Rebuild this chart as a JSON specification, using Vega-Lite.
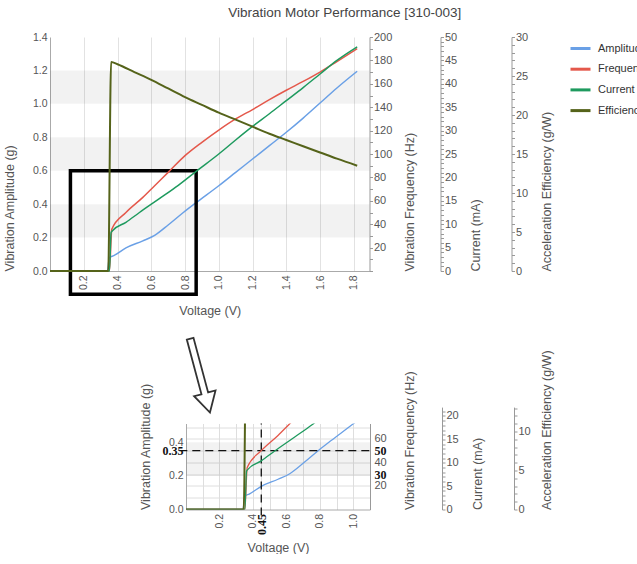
{
  "$schema": "https://vega.github.io/schema/vega-lite/v6.json",
  "padding": {"left": 3, "top": 5, "right": 0, "bottom": 0},
  "title": {"text": "Vibration Motor Performance [310-003]", "fontSize": 13.5, "fontWeight": "normal", "color": "#444", "anchor": "middle", "offset": 12, "dx": 18},
  "datasets": {
    "curves": [
      {"s": "Amplitude", "v": 0, "y": 0}, {"s": "Amplitude", "v": 0.34, "y": 0}, {"s": "Amplitude", "v": 0.352, "y": 0.08}, {"s": "Amplitude", "v": 0.378, "y": 0.092}, {"s": "Amplitude", "v": 0.45, "y": 0.138}, {"s": "Amplitude", "v": 0.55, "y": 0.18}, {"s": "Amplitude", "v": 0.62, "y": 0.213}, {"s": "Amplitude", "v": 0.7, "y": 0.275}, {"s": "Amplitude", "v": 0.79, "y": 0.35}, {"s": "Amplitude", "v": 0.87, "y": 0.412}, {"s": "Amplitude", "v": 1.0, "y": 0.51}, {"s": "Amplitude", "v": 1.1, "y": 0.59}, {"s": "Amplitude", "v": 1.2, "y": 0.67}, {"s": "Amplitude", "v": 1.3, "y": 0.75}, {"s": "Amplitude", "v": 1.4, "y": 0.83}, {"s": "Amplitude", "v": 1.5, "y": 0.915}, {"s": "Amplitude", "v": 1.6, "y": 1.005}, {"s": "Amplitude", "v": 1.7, "y": 1.095}, {"s": "Amplitude", "v": 1.82, "y": 1.195},
      {"s": "Frequency", "v": 0, "y": 0}, {"s": "Frequency", "v": 0.34, "y": 0}, {"s": "Frequency", "v": 0.352, "y": 0}, {"s": "Frequency", "v": 0.366, "y": 35.7}, {"s": "Frequency", "v": 0.45, "y": 50}, {"s": "Frequency", "v": 0.55, "y": 62.9}, {"s": "Frequency", "v": 0.62, "y": 72.9}, {"s": "Frequency", "v": 0.7, "y": 84.3}, {"s": "Frequency", "v": 0.8, "y": 98.6}, {"s": "Frequency", "v": 0.9, "y": 110}, {"s": "Frequency", "v": 1.0, "y": 120.5}, {"s": "Frequency", "v": 1.1, "y": 130}, {"s": "Frequency", "v": 1.2, "y": 138}, {"s": "Frequency", "v": 1.3, "y": 146.5}, {"s": "Frequency", "v": 1.4, "y": 154.5}, {"s": "Frequency", "v": 1.5, "y": 162}, {"s": "Frequency", "v": 1.6, "y": 170}, {"s": "Frequency", "v": 1.7, "y": 179}, {"s": "Frequency", "v": 1.82, "y": 190},
      {"s": "Current", "v": 0, "y": 0}, {"s": "Current", "v": 0.34, "y": 0}, {"s": "Current", "v": 0.352, "y": 0}, {"s": "Current", "v": 0.362, "y": 8.2}, {"s": "Current", "v": 0.37, "y": 8.6}, {"s": "Current", "v": 0.45, "y": 10.4}, {"s": "Current", "v": 0.53, "y": 12.5}, {"s": "Current", "v": 0.65, "y": 15.5}, {"s": "Current", "v": 0.76, "y": 18.3}, {"s": "Current", "v": 0.87, "y": 21.4}, {"s": "Current", "v": 1.0, "y": 25}, {"s": "Current", "v": 1.1, "y": 28}, {"s": "Current", "v": 1.2, "y": 30.9}, {"s": "Current", "v": 1.3, "y": 33.6}, {"s": "Current", "v": 1.4, "y": 36.4}, {"s": "Current", "v": 1.5, "y": 39.2}, {"s": "Current", "v": 1.6, "y": 42.1}, {"s": "Current", "v": 1.7, "y": 45}, {"s": "Current", "v": 1.82, "y": 47.9},
      {"s": "Efficiency", "v": 0, "y": 0}, {"s": "Efficiency", "v": 0.345, "y": 0}, {"s": "Efficiency", "v": 0.362, "y": 26.8}, {"s": "Efficiency", "v": 0.4, "y": 26.5}, {"s": "Efficiency", "v": 0.5, "y": 25.5}, {"s": "Efficiency", "v": 0.6, "y": 24.5}, {"s": "Efficiency", "v": 0.7, "y": 23.4}, {"s": "Efficiency", "v": 0.8, "y": 22.3}, {"s": "Efficiency", "v": 0.9, "y": 21.3}, {"s": "Efficiency", "v": 1.0, "y": 20.3}, {"s": "Efficiency", "v": 1.1, "y": 19.4}, {"s": "Efficiency", "v": 1.2, "y": 18.5}, {"s": "Efficiency", "v": 1.3, "y": 17.6}, {"s": "Efficiency", "v": 1.4, "y": 16.8}, {"s": "Efficiency", "v": 1.5, "y": 16.0}, {"s": "Efficiency", "v": 1.6, "y": 15.2}, {"s": "Efficiency", "v": 1.7, "y": 14.4}, {"s": "Efficiency", "v": 1.82, "y": 13.5}
    ],
    "bands": [
      {"panel": "top", "lo": 0.2, "hi": 0.4}, {"panel": "top", "lo": 0.6, "hi": 0.8}, {"panel": "top", "lo": 1.0, "hi": 1.2},
      {"panel": "bottom", "lo": 0.2, "hi": 0.4}
    ],
    "box": [{"x1": 0.121, "x2": 0.866, "y1": -0.139, "y2": 0.6}],
    "hrule": [{"x1": -0.04, "x2": 1.1, "y": 0.35}],
    "vrule": [{"x": 0.45, "y1": -0.035, "y2": 0.512}],
    "arrow": [{"v": 0.084, "y": 0.797}]
  },
  "vconcat": [
    {
      "width": 319.5,
      "height": 234,
      "layer": [
        {
          "layer": [
            {
              "data": {"name": "bands"},
              "transform": [{"filter": "datum.panel == 'top'"}],
              "mark": {"type": "rect", "fill": "#000", "fillOpacity": 0.05},
              "encoding": {
                "y": {"field": "lo", "type": "quantitative", "scale": {"domain": [0, 1.4], "nice": false, "zero": false},
                  "axis": {"values": [0, 0.2, 0.4, 0.6, 0.8, 1.0, 1.2, 1.4], "format": ".1f", "ticks": false, "labelPadding": 3, "labelOverlap": false, "title": "Vibration Amplitude (g)", "titleAnchor": "start", "titlePadding": 16, "grid": false, "domainColor": "#aaa"}},
                "y2": {"field": "hi"}
              }
            },
            {
              "data": {"name": "curves"},
              "transform": [{"filter": "datum.s == 'Amplitude'"}],
              "mark": {"type": "line", "strokeWidth": 1.5, "interpolate": "monotone"},
              "encoding": {
                "x": {"field": "v", "type": "quantitative", "scale": {"domain": [0, 1.893], "nice": false, "zero": false},
                  "axis": {"values": [0.2, 0.4, 0.6, 0.8, 1.0, 1.2, 1.4, 1.6, 1.8], "format": ".1f", "labelAngle": -90, "ticks": false, "labelPadding": 4, "labelOverlap": false, "title": "Voltage (V)", "titlePadding": 15, "grid": true, "gridColor": "#e2e2e2", "domainColor": "#aaa"}},
                "y": {"field": "y", "type": "quantitative", "scale": {"domain": [0, 1.4], "nice": false, "zero": false},
                  "axis": {"values": [0, 0.2, 0.4, 0.6, 0.8, 1.0, 1.2, 1.4], "format": ".1f", "ticks": false, "labelPadding": 3, "labelOverlap": false, "title": "Vibration Amplitude (g)", "titleAnchor": "start", "titlePadding": 16, "grid": false, "domainColor": "#aaa"}},
                "color": {"field": "s", "type": "nominal", "scale": {"domain": ["Amplitude", "Frequency", "Current", "Efficiency"], "range": ["#6aa0e6", "#e4584b", "#1e9a5e", "#55631a"]},
                  "legend": {"title": null, "symbolType": "stroke", "symbolStrokeWidth": 3, "symbolSize": 400, "labelFontSize": 11, "labelColor": "#333", "rowPadding": 2.7, "labelOffset": 6, "offset": 15}}
              }
            },
            {
              "data": {"name": "box"},
              "mark": {"type": "rect", "fill": null, "stroke": "#000", "strokeWidth": 3.5, "clip": false},
              "encoding": {
                "x": {"field": "x1", "type": "quantitative", "scale": {"domain": [0, 1.893], "nice": false, "zero": false},
                  "axis": {"values": [0.2, 0.4, 0.6, 0.8, 1.0, 1.2, 1.4, 1.6, 1.8], "format": ".1f", "labelAngle": -90, "ticks": false, "labelPadding": 4, "labelOverlap": false, "title": "Voltage (V)", "titlePadding": 15, "grid": true, "gridColor": "#e2e2e2", "domainColor": "#aaa"}},
                "x2": {"field": "x2"},
                "y": {"field": "y1", "type": "quantitative", "scale": {"domain": [0, 1.4], "nice": false, "zero": false},
                  "axis": {"values": [0, 0.2, 0.4, 0.6, 0.8, 1.0, 1.2, 1.4], "format": ".1f", "ticks": false, "labelPadding": 3, "labelOverlap": false, "title": "Vibration Amplitude (g)", "titleAnchor": "start", "titlePadding": 16, "grid": false, "domainColor": "#aaa"}},
                "y2": {"field": "y2"}
              }
            }
          ]
        },
        {
          "data": {"name": "curves"},
          "transform": [{"filter": "datum.s == 'Frequency'"}],
          "mark": {"type": "line", "strokeWidth": 1.5, "interpolate": "monotone"},
          "encoding": {
            "x": {"field": "v", "type": "quantitative", "scale": {"domain": [0, 1.893], "nice": false, "zero": false},
              "axis": {"values": [0.2, 0.4, 0.6, 0.8, 1.0, 1.2, 1.4, 1.6, 1.8], "format": ".1f", "labelAngle": -90, "ticks": false, "labelPadding": 4, "labelOverlap": false, "title": "Voltage (V)", "titlePadding": 15, "grid": true, "gridColor": "#e2e2e2", "domainColor": "#aaa"}},
            "y": {"field": "y", "type": "quantitative", "scale": {"domain": [0, 200], "nice": false, "zero": false},
              "axis": {"orient": "right", "values": [0, 10, 20, 30, 40, 50, 60, 70, 80, 90, 100, 110, 120, 130, 140, 150, 160, 170, 180, 190, 200], "labelExpr": "datum.value % 20 == 0 && datum.value > 0 ? datum.label : ''", "labelOverlap": false, "labelFontSize": 11, "tickSize": 3, "labelPadding": 1, "title": "Vibration Frequency (Hz)", "titleAngle": -90, "titleBaseline": "top", "titleAnchor": "start", "titlePadding": 12, "grid": false}},
            "color": {"field": "s", "type": "nominal"}
          }
        },
        {
          "data": {"name": "curves"},
          "transform": [{"filter": "datum.s == 'Current'"}],
          "mark": {"type": "line", "strokeWidth": 1.5, "interpolate": "monotone"},
          "encoding": {
            "x": {"field": "v", "type": "quantitative", "scale": {"domain": [0, 1.893], "nice": false, "zero": false},
              "axis": {"values": [0.2, 0.4, 0.6, 0.8, 1.0, 1.2, 1.4, 1.6, 1.8], "format": ".1f", "labelAngle": -90, "ticks": false, "labelPadding": 4, "labelOverlap": false, "title": "Voltage (V)", "titlePadding": 15, "grid": true, "gridColor": "#e2e2e2", "domainColor": "#aaa"}},
            "y": {"field": "y", "type": "quantitative", "scale": {"domain": [0, 50], "nice": false, "zero": false},
              "axis": {"orient": "right", "offset": 71, "values": [0,1,2,3,4,5,6,7,8,9,10,11,12,13,14,15,16,17,18,19,20,21,22,23,24,25,26,27,28,29,30,31,32,33,34,35,36,37,38,39,40,41,42,43,44,45,46,47,48,49,50], "labelExpr": "datum.value % 5 == 0 ? datum.label : ''", "labelOverlap": false, "labelFontSize": 11, "tickSize": 3, "labelPadding": 1, "title": "Current (mA)", "titleAngle": -90, "titleBaseline": "top", "titleAnchor": "start", "titlePadding": 13, "grid": false}},
            "color": {"field": "s", "type": "nominal"}
          }
        },
        {
          "data": {"name": "curves"},
          "transform": [{"filter": "datum.s == 'Efficiency'"}],
          "mark": {"type": "line", "strokeWidth": 2, "interpolate": "monotone"},
          "encoding": {
            "x": {"field": "v", "type": "quantitative", "scale": {"domain": [0, 1.893], "nice": false, "zero": false},
              "axis": {"values": [0.2, 0.4, 0.6, 0.8, 1.0, 1.2, 1.4, 1.6, 1.8], "format": ".1f", "labelAngle": -90, "ticks": false, "labelPadding": 4, "labelOverlap": false, "title": "Voltage (V)", "titlePadding": 15, "grid": true, "gridColor": "#e2e2e2", "domainColor": "#aaa"}},
            "y": {"field": "y", "type": "quantitative", "scale": {"domain": [0, 30], "nice": false, "zero": false},
              "axis": {"orient": "right", "offset": 142, "values": [0,1,2,3,4,5,6,7,8,9,10,11,12,13,14,15,16,17,18,19,20,21,22,23,24,25,26,27,28,29,30], "labelExpr": "datum.value % 5 == 0 ? datum.label : ''", "labelOverlap": false, "labelFontSize": 11, "tickSize": 3, "labelPadding": 1, "title": "Acceleration Efficiency (g/W)", "titleAngle": -90, "titleBaseline": "top", "titleAnchor": "start", "titlePadding": 13, "grid": false}},
            "color": {"field": "s", "type": "nominal"}
          }
        }
      ],
      "resolve": {"scale": {"y": "independent"}, "axis": {"y": "independent"}}
    },
    {
      "spacing": 0,
      "hconcat": [
        {
          "width": 89,
          "height": 10,
          "data": {"values": []},
          "mark": {"type": "point", "opacity": 0},
          "encoding": {}
        },
        {
          "width": 184,
          "height": 86,
          "layer": [
            {
              "layer": [
                {
                  "data": {"name": "bands"},
                  "transform": [{"filter": "datum.panel == 'bottom'"}],
                  "mark": {"type": "rect", "fill": "#000", "fillOpacity": 0.05},
                  "encoding": {
                    "y": {"field": "lo", "type": "quantitative", "scale": {"domain": [0, 0.512], "nice": false, "zero": false},
                      "axis": {"values": [0, 0.2, 0.35, 0.4], "labelExpr": "datum.value == 0.35 ? '0.35' : format(datum.value, '.1f')", "labelOverlap": false,
                        "labelFont": {"condition": {"test": "datum.value == 0.35", "value": "Liberation Serif"}, "value": "Liberation Sans"},
                        "labelFontWeight": {"condition": {"test": "datum.value == 0.35", "value": "bold"}, "value": "normal"},
                        "labelColor": {"condition": {"test": "datum.value == 0.35", "value": "#111"}, "value": "#555"},
                        "labelFontSize": {"condition": {"test": "datum.value == 0.35", "value": 12}, "value": 10.5},
                        "ticks": false, "labelPadding": 3, "title": "Vibration Amplitude (g)", "titleAnchor": "start", "titlePadding": 10, "grid": false, "domainColor": "#aaa"}},
                    "y2": {"field": "hi"}
                  }
                },
                {
                  "data": {"name": "curves"},
                  "transform": [{"filter": "datum.s == 'Amplitude'"}],
                  "mark": {"type": "line", "strokeWidth": 1.3, "interpolate": "monotone", "clip": true},
                  "encoding": {
                    "x": {"field": "v", "type": "quantitative", "scale": {"domain": [0, 1.1], "nice": false, "zero": false},
                      "axis": {"values": [0.1, 0.2, 0.3, 0.4, 0.45, 0.5, 0.6, 0.7, 0.8, 0.9, 1.0, 1.1],
                        "labelExpr": "datum.value == 0.45 ? '0.45' : ((datum.value == 0.2 || datum.value == 0.4 || datum.value == 0.6 || datum.value == 0.8 || datum.value == 1) ? format(datum.value, '.1f') : '')",
                        "labelOverlap": false,
                        "labelFont": {"condition": {"test": "datum.value == 0.45", "value": "Liberation Serif"}, "value": "Liberation Sans"},
                        "labelFontWeight": {"condition": {"test": "datum.value == 0.45", "value": "bold"}, "value": "normal"},
                        "labelColor": {"condition": {"test": "datum.value == 0.45", "value": "#111"}, "value": "#555"},
                        "labelFontSize": {"condition": {"test": "datum.value == 0.45", "value": 12}, "value": 10.5},
                        "labelAngle": -90, "ticks": false, "labelPadding": 4, "title": "Voltage (V)", "titlePadding": 7, "grid": true, "gridColor": "#dedede", "domainColor": "#aaa"}},
                    "y": {"field": "y", "type": "quantitative", "scale": {"domain": [0, 0.512], "nice": false, "zero": false},
                      "axis": {"values": [0, 0.2, 0.35, 0.4], "labelExpr": "datum.value == 0.35 ? '0.35' : format(datum.value, '.1f')", "labelOverlap": false,
                        "labelFont": {"condition": {"test": "datum.value == 0.35", "value": "Liberation Serif"}, "value": "Liberation Sans"},
                        "labelFontWeight": {"condition": {"test": "datum.value == 0.35", "value": "bold"}, "value": "normal"},
                        "labelColor": {"condition": {"test": "datum.value == 0.35", "value": "#111"}, "value": "#555"},
                        "labelFontSize": {"condition": {"test": "datum.value == 0.35", "value": 12}, "value": 10.5},
                        "ticks": false, "labelPadding": 3, "title": "Vibration Amplitude (g)", "titleAnchor": "start", "titlePadding": 10, "grid": false, "domainColor": "#aaa"}},
                    "color": {"field": "s", "type": "nominal"}
                  }
                },
                {
                  "data": {"name": "hrule"},
                  "mark": {"type": "rule", "stroke": "#111", "strokeWidth": 1.3, "strokeDash": [8, 5], "clip": false},
                  "encoding": {
                    "x": {"field": "x1", "type": "quantitative", "scale": {"domain": [0, 1.1], "nice": false, "zero": false},
                      "axis": {"values": [0.1, 0.2, 0.3, 0.4, 0.45, 0.5, 0.6, 0.7, 0.8, 0.9, 1.0, 1.1],
                        "labelExpr": "datum.value == 0.45 ? '0.45' : ((datum.value == 0.2 || datum.value == 0.4 || datum.value == 0.6 || datum.value == 0.8 || datum.value == 1) ? format(datum.value, '.1f') : '')",
                        "labelOverlap": false,
                        "labelFont": {"condition": {"test": "datum.value == 0.45", "value": "Liberation Serif"}, "value": "Liberation Sans"},
                        "labelFontWeight": {"condition": {"test": "datum.value == 0.45", "value": "bold"}, "value": "normal"},
                        "labelColor": {"condition": {"test": "datum.value == 0.45", "value": "#111"}, "value": "#555"},
                        "labelFontSize": {"condition": {"test": "datum.value == 0.45", "value": 12}, "value": 10.5},
                        "labelAngle": -90, "ticks": false, "labelPadding": 4, "title": "Voltage (V)", "titlePadding": 7, "grid": true, "gridColor": "#dedede", "domainColor": "#aaa"}},
                    "x2": {"field": "x2"},
                    "y": {"field": "y", "type": "quantitative", "scale": {"domain": [0, 0.512], "nice": false, "zero": false},
                      "axis": {"values": [0, 0.2, 0.35, 0.4], "labelExpr": "datum.value == 0.35 ? '0.35' : format(datum.value, '.1f')", "labelOverlap": false,
                        "labelFont": {"condition": {"test": "datum.value == 0.35", "value": "Liberation Serif"}, "value": "Liberation Sans"},
                        "labelFontWeight": {"condition": {"test": "datum.value == 0.35", "value": "bold"}, "value": "normal"},
                        "labelColor": {"condition": {"test": "datum.value == 0.35", "value": "#111"}, "value": "#555"},
                        "labelFontSize": {"condition": {"test": "datum.value == 0.35", "value": 12}, "value": 10.5},
                        "ticks": false, "labelPadding": 3, "title": "Vibration Amplitude (g)", "titleAnchor": "start", "titlePadding": 10, "grid": false, "domainColor": "#aaa"}}
                  }
                },
                {
                  "data": {"name": "vrule"},
                  "mark": {"type": "rule", "stroke": "#111", "strokeWidth": 1.3, "strokeDash": [8, 5], "clip": false},
                  "encoding": {
                    "x": {"field": "x", "type": "quantitative", "scale": {"domain": [0, 1.1], "nice": false, "zero": false},
                      "axis": {"values": [0.1, 0.2, 0.3, 0.4, 0.45, 0.5, 0.6, 0.7, 0.8, 0.9, 1.0, 1.1],
                        "labelExpr": "datum.value == 0.45 ? '0.45' : ((datum.value == 0.2 || datum.value == 0.4 || datum.value == 0.6 || datum.value == 0.8 || datum.value == 1) ? format(datum.value, '.1f') : '')",
                        "labelOverlap": false,
                        "labelFont": {"condition": {"test": "datum.value == 0.45", "value": "Liberation Serif"}, "value": "Liberation Sans"},
                        "labelFontWeight": {"condition": {"test": "datum.value == 0.45", "value": "bold"}, "value": "normal"},
                        "labelColor": {"condition": {"test": "datum.value == 0.45", "value": "#111"}, "value": "#555"},
                        "labelFontSize": {"condition": {"test": "datum.value == 0.45", "value": 12}, "value": 10.5},
                        "labelAngle": -90, "ticks": false, "labelPadding": 4, "title": "Voltage (V)", "titlePadding": 7, "grid": true, "gridColor": "#dedede", "domainColor": "#aaa"}},
                    "y": {"field": "y1", "type": "quantitative", "scale": {"domain": [0, 0.512], "nice": false, "zero": false},
                      "axis": {"values": [0, 0.2, 0.35, 0.4], "labelExpr": "datum.value == 0.35 ? '0.35' : format(datum.value, '.1f')", "labelOverlap": false,
                        "labelFont": {"condition": {"test": "datum.value == 0.35", "value": "Liberation Serif"}, "value": "Liberation Sans"},
                        "labelFontWeight": {"condition": {"test": "datum.value == 0.35", "value": "bold"}, "value": "normal"},
                        "labelColor": {"condition": {"test": "datum.value == 0.35", "value": "#111"}, "value": "#555"},
                        "labelFontSize": {"condition": {"test": "datum.value == 0.35", "value": 12}, "value": 10.5},
                        "ticks": false, "labelPadding": 3, "title": "Vibration Amplitude (g)", "titleAnchor": "start", "titlePadding": 10, "grid": false, "domainColor": "#aaa"}},
                    "y2": {"field": "y2"}
                  }
                },
                {
                  "data": {"name": "arrow"},
                  "mark": {"type": "point", "shape": "M-0.09,1L0.09,1L0.09,-0.48L0.29,-0.48L0,-1L-0.29,-0.48L-0.09,-0.48Z", "size": 5850, "angle": 165, "filled": true, "fill": "#fff", "stroke": "#333", "strokeWidth": 1.8, "opacity": 1, "clip": false},
                  "encoding": {
                    "x": {"field": "v", "type": "quantitative", "scale": {"domain": [0, 1.1], "nice": false, "zero": false},
                      "axis": {"values": [0.1, 0.2, 0.3, 0.4, 0.45, 0.5, 0.6, 0.7, 0.8, 0.9, 1.0, 1.1],
                        "labelExpr": "datum.value == 0.45 ? '0.45' : ((datum.value == 0.2 || datum.value == 0.4 || datum.value == 0.6 || datum.value == 0.8 || datum.value == 1) ? format(datum.value, '.1f') : '')",
                        "labelOverlap": false,
                        "labelFont": {"condition": {"test": "datum.value == 0.45", "value": "Liberation Serif"}, "value": "Liberation Sans"},
                        "labelFontWeight": {"condition": {"test": "datum.value == 0.45", "value": "bold"}, "value": "normal"},
                        "labelColor": {"condition": {"test": "datum.value == 0.45", "value": "#111"}, "value": "#555"},
                        "labelFontSize": {"condition": {"test": "datum.value == 0.45", "value": 12}, "value": 10.5},
                        "labelAngle": -90, "ticks": false, "labelPadding": 4, "title": "Voltage (V)", "titlePadding": 7, "grid": true, "gridColor": "#dedede", "domainColor": "#aaa"}},
                    "y": {"field": "y", "type": "quantitative", "scale": {"domain": [0, 0.512], "nice": false, "zero": false},
                      "axis": {"values": [0, 0.2, 0.35, 0.4], "labelExpr": "datum.value == 0.35 ? '0.35' : format(datum.value, '.1f')", "labelOverlap": false,
                        "labelFont": {"condition": {"test": "datum.value == 0.35", "value": "Liberation Serif"}, "value": "Liberation Sans"},
                        "labelFontWeight": {"condition": {"test": "datum.value == 0.35", "value": "bold"}, "value": "normal"},
                        "labelColor": {"condition": {"test": "datum.value == 0.35", "value": "#111"}, "value": "#555"},
                        "labelFontSize": {"condition": {"test": "datum.value == 0.35", "value": 12}, "value": 10.5},
                        "ticks": false, "labelPadding": 3, "title": "Vibration Amplitude (g)", "titleAnchor": "start", "titlePadding": 10, "grid": false, "domainColor": "#aaa"}}
                  }
                }
              ]
            },
            {
              "data": {"name": "curves"},
              "transform": [{"filter": "datum.s == 'Frequency'"}],
              "mark": {"type": "line", "strokeWidth": 1.3, "interpolate": "monotone", "clip": true},
              "encoding": {
                "x": {"field": "v", "type": "quantitative", "scale": {"domain": [0, 1.1], "nice": false, "zero": false},
                  "axis": {"values": [0.1, 0.2, 0.3, 0.4, 0.45, 0.5, 0.6, 0.7, 0.8, 0.9, 1.0, 1.1],
                    "labelExpr": "datum.value == 0.45 ? '0.45' : ((datum.value == 0.2 || datum.value == 0.4 || datum.value == 0.6 || datum.value == 0.8 || datum.value == 1) ? format(datum.value, '.1f') : '')",
                    "labelOverlap": false,
                    "labelFont": {"condition": {"test": "datum.value == 0.45", "value": "Liberation Serif"}, "value": "Liberation Sans"},
                    "labelFontWeight": {"condition": {"test": "datum.value == 0.45", "value": "bold"}, "value": "normal"},
                    "labelColor": {"condition": {"test": "datum.value == 0.45", "value": "#111"}, "value": "#555"},
                    "labelFontSize": {"condition": {"test": "datum.value == 0.45", "value": 12}, "value": 10.5},
                    "labelAngle": -90, "ticks": false, "labelPadding": 4, "title": "Voltage (V)", "titlePadding": 7, "grid": true, "gridColor": "#dedede", "domainColor": "#aaa"}},
                "y": {"field": "y", "type": "quantitative", "scale": {"domain": [0, 73.1], "nice": false, "zero": false},
                  "axis": {"orient": "right", "values": [10, 20, 30, 40, 50, 60, 70], "labelExpr": "datum.value >= 20 && datum.value <= 60 ? datum.label : ''", "labelOverlap": false,
                    "labelFont": {"condition": {"test": "datum.value == 30 || datum.value == 50", "value": "Liberation Serif"}, "value": "Liberation Sans"},
                    "labelFontWeight": {"condition": {"test": "datum.value == 30 || datum.value == 50", "value": "bold"}, "value": "normal"},
                    "labelColor": {"condition": {"test": "datum.value == 30 || datum.value == 50", "value": "#111"}, "value": "#555"},
                    "labelFontSize": {"condition": {"test": "datum.value == 30 || datum.value == 50", "value": 12}, "value": 11},
                    "ticks": false, "labelPadding": 4, "title": "Vibration Frequency (Hz)", "titleAngle": -90, "titleBaseline": "top", "titleAnchor": "start", "titlePadding": 17, "grid": true, "gridColor": "#dedede"}},
                "color": {"field": "s", "type": "nominal"}
              }
            },
            {
              "data": {"name": "curves"},
              "transform": [{"filter": "datum.s == 'Current'"}],
              "mark": {"type": "line", "strokeWidth": 1.3, "interpolate": "monotone", "clip": true},
              "encoding": {
                "x": {"field": "v", "type": "quantitative", "scale": {"domain": [0, 1.1], "nice": false, "zero": false},
                  "axis": {"values": [0.1, 0.2, 0.3, 0.4, 0.45, 0.5, 0.6, 0.7, 0.8, 0.9, 1.0, 1.1],
                    "labelExpr": "datum.value == 0.45 ? '0.45' : ((datum.value == 0.2 || datum.value == 0.4 || datum.value == 0.6 || datum.value == 0.8 || datum.value == 1) ? format(datum.value, '.1f') : '')",
                    "labelOverlap": false,
                    "labelFont": {"condition": {"test": "datum.value == 0.45", "value": "Liberation Serif"}, "value": "Liberation Sans"},
                    "labelFontWeight": {"condition": {"test": "datum.value == 0.45", "value": "bold"}, "value": "normal"},
                    "labelColor": {"condition": {"test": "datum.value == 0.45", "value": "#111"}, "value": "#555"},
                    "labelFontSize": {"condition": {"test": "datum.value == 0.45", "value": 12}, "value": 10.5},
                    "labelAngle": -90, "ticks": false, "labelPadding": 4, "title": "Voltage (V)", "titlePadding": 7, "grid": true, "gridColor": "#dedede", "domainColor": "#aaa"}},
                "y": {"field": "y", "type": "quantitative", "scale": {"domain": [0, 21.9], "range": [86, -16.4], "nice": false, "zero": false},
                  "axis": {"orient": "right", "offset": 72, "values": [0,1,2,3,4,5,6,7,8,9,10,11,12,13,14,15,16,17,18,19,20,21], "labelExpr": "datum.value % 5 == 0 ? datum.label : ''", "labelOverlap": false, "labelFontSize": 11, "tickSize": 3, "labelPadding": 1, "title": "Current (mA)", "titleAngle": -90, "titleBaseline": "top", "titleAnchor": "start", "titlePadding": 13, "grid": false}},
                "color": {"field": "s", "type": "nominal"}
              }
            },
            {
              "data": {"name": "curves"},
              "transform": [{"filter": "datum.s == 'Efficiency'"}],
              "mark": {"type": "line", "strokeWidth": 2, "interpolate": "monotone", "clip": true},
              "encoding": {
                "x": {"field": "v", "type": "quantitative", "scale": {"domain": [0, 1.1], "nice": false, "zero": false},
                  "axis": {"values": [0.1, 0.2, 0.3, 0.4, 0.45, 0.5, 0.6, 0.7, 0.8, 0.9, 1.0, 1.1],
                    "labelExpr": "datum.value == 0.45 ? '0.45' : ((datum.value == 0.2 || datum.value == 0.4 || datum.value == 0.6 || datum.value == 0.8 || datum.value == 1) ? format(datum.value, '.1f') : '')",
                    "labelOverlap": false,
                    "labelFont": {"condition": {"test": "datum.value == 0.45", "value": "Liberation Serif"}, "value": "Liberation Sans"},
                    "labelFontWeight": {"condition": {"test": "datum.value == 0.45", "value": "bold"}, "value": "normal"},
                    "labelColor": {"condition": {"test": "datum.value == 0.45", "value": "#111"}, "value": "#555"},
                    "labelFontSize": {"condition": {"test": "datum.value == 0.45", "value": 12}, "value": 10.5},
                    "labelAngle": -90, "ticks": false, "labelPadding": 4, "title": "Voltage (V)", "titlePadding": 7, "grid": true, "gridColor": "#dedede", "domainColor": "#aaa"}},
                "y": {"field": "y", "type": "quantitative", "scale": {"domain": [0, 13.13], "range": [86, -16.4], "nice": false, "zero": false},
                  "axis": {"orient": "right", "offset": 144, "values": [0,1,2,3,4,5,6,7,8,9,10,11,12,13], "labelExpr": "datum.value % 5 == 0 ? datum.label : ''", "labelOverlap": false, "labelFontSize": 11, "tickSize": 3, "labelPadding": 1, "title": "Acceleration Efficiency (g/W)", "titleAngle": -90, "titleBaseline": "top", "titleAnchor": "start", "titlePadding": 10, "grid": false}},
                "color": {"field": "s", "type": "nominal"}
              }
            }
          ],
          "resolve": {"scale": {"y": "independent"}, "axis": {"y": "independent"}}
        }
      ]
    }
  ],
  "spacing": 15.5,
  "config": {
    "font": "Liberation Sans",
    "view": {"stroke": null},
    "axis": {"labelOverlap": false, "labelColor": "#555", "titleColor": "#555", "titleFontWeight": "normal", "titleFontSize": 12.5, "labelFontSize": 10.5, "domainColor": "#999", "tickColor": "#999", "gridColor": "#e2e2e2"}
  }
}
